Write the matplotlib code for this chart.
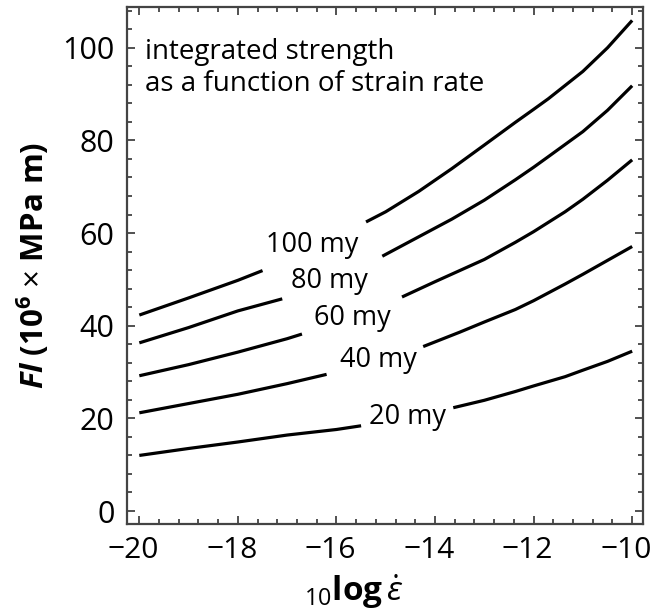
import numpy as np
import matplotlib
matplotlib.use('Agg')
import matplotlib.pyplot as plt
from matplotlib.ticker import MultipleLocator
from matplotlib.transforms import ScaledTranslation

plt.rcParams['font.family'] = ['Open Sans', 'DejaVu Sans']
plt.rcParams['mathtext.fontset'] = 'custom'
plt.rcParams['mathtext.rm'] = 'Open Sans'
plt.rcParams['mathtext.it'] = 'Open Sans:italic'
plt.rcParams['mathtext.bf'] = 'Open Sans:bold'
plt.rcParams['mathtext.bfit'] = 'Open Sans:bold:italic'

# curves, each split in two parts around its label
ages = ['100 my', '80 my', '60 my', '40 my', '20 my']

x_left = {
    '100 my': [-20, -19, -18, -17.5],
    '80 my': [-20, -19, -18, -17.1],
    '60 my': [-20, -19, -18, -17, -16.7],
    '40 my': [-20, -19, -18, -17, -16.2],
    '20 my': [-20, -19, -18, -17, -16, -15.5],
}
y_left = {
    '100 my': [42.3, 46.0, 49.8, 51.9],
    '80 my': [36.3, 39.6, 43.2, 45.8],
    '60 my': [29.2, 31.6, 34.3, 37.2, 38.2],
    '40 my': [21.2, 23.2, 25.2, 27.5, 29.5],
    '20 my': [12.0, 13.5, 14.9, 16.4, 17.6, 18.4],
}
x_right = {
    '100 my': [-15.4, -15, -14.33, -13.66, -13, -12.37, -12, -11.7, -11, -10.5, -10],
    '80 my': [-15.07, -14.33, -13.66, -13, -12.37, -12, -11.7, -11, -10.5, -10],
    '60 my': [-14.67, -14, -13, -12.37, -12, -11.36, -11, -10.5, -10],
    '40 my': [-14.24, -13.5, -13, -12.37, -12, -11.36, -11, -10.5, -10],
    '20 my': [-13.63, -13, -12.37, -12, -11.36, -11, -10.5, -10],
}
y_right = {
    '100 my': [62.4, 64.6, 69.0, 73.9, 79.0, 83.9, 86.7, 89.0, 94.9, 100.0, 105.9],
    '80 my': [55.0, 59.2, 63.0, 67.1, 71.5, 74.2, 76.5, 81.9, 86.5, 91.8],
    '60 my': [46.2, 49.5, 54.3, 58.0, 60.3, 64.6, 67.3, 71.4, 75.8],
    '40 my': [35.5, 38.6, 40.8, 43.5, 45.4, 49.0, 51.1, 54.1, 57.1],
    '20 my': [22.3, 23.9, 25.8, 27.0, 29.0, 30.4, 32.3, 34.5],
}
label_x = [-16.5, -16.15, -15.68, -15.15, -14.56]
label_y = [57.4, 49.7, 41.7, 32.6, 20.3]

xticks = [-20, -18, -16, -14, -12, -10]
xtick_labels = ['\u221220', '\u221218', '\u221216', '\u221214', '\u221212', '\u221210']

fig = plt.figure(figsize=(6.56, 6.13), dpi=100)
ax = fig.add_axes([0.1936, 0.1452, 0.7866, 0.8434])

for i, age in enumerate(ages):
    ax.plot(x_left[age], y_left[age], color='black', lw=2.3, solid_capstyle='butt')
    ax.plot(x_right[age], y_right[age], color='black', lw=2.3, solid_capstyle='butt')
    ax.text(label_x[i], label_y[i], age, ha='center', va='center', fontsize=19.5)

ax.text(-19.88, 95.6, 'integrated strength\nas a function of strain rate',
        ha='left', va='center', fontsize=20, linespacing=1.2)

ax.set_xlim(-20.25, -9.78)
ax.set_ylim(-2.8, 108.8)
ax.xaxis.set_minor_locator(MultipleLocator(0.4))
ax.yaxis.set_major_locator(MultipleLocator(20))
ax.yaxis.set_minor_locator(MultipleLocator(4))
ax.tick_params(which='both', direction='in', top=True, right=True, width=1.2, color='#333333')
ax.tick_params(which='major', length=6, labelsize=22, pad=9)
ax.tick_params(axis='x', which='major', labelsize=21.5)
ax.tick_params(which='minor', length=3.5)
for s in ax.spines.values():
    s.set_linewidth(1.6)
    s.set_color('#444444')

ax.set_xticks(xticks)
ax.set_xticklabels(xtick_labels)
shift = ScaledTranslation(-6 / 100, 0, fig.dpi_scale_trans)
for lbl in ax.get_xticklabels():
    lbl.set_transform(lbl.get_transform() + shift)

ax.set_xlabel(r'${}_{10}\mathbf{log}\,\dot{\varepsilon}$', fontsize=24, labelpad=0)
ax.xaxis.set_label_coords(0.44, -0.095)
ax.set_ylabel(r'$\mathbfit{Fl}$ $\mathbf{(10^6}$ $\times$ $\mathbf{MPa\ m)}$', fontsize=22.5, labelpad=8)

fig.savefig('out.png', dpi=100)
